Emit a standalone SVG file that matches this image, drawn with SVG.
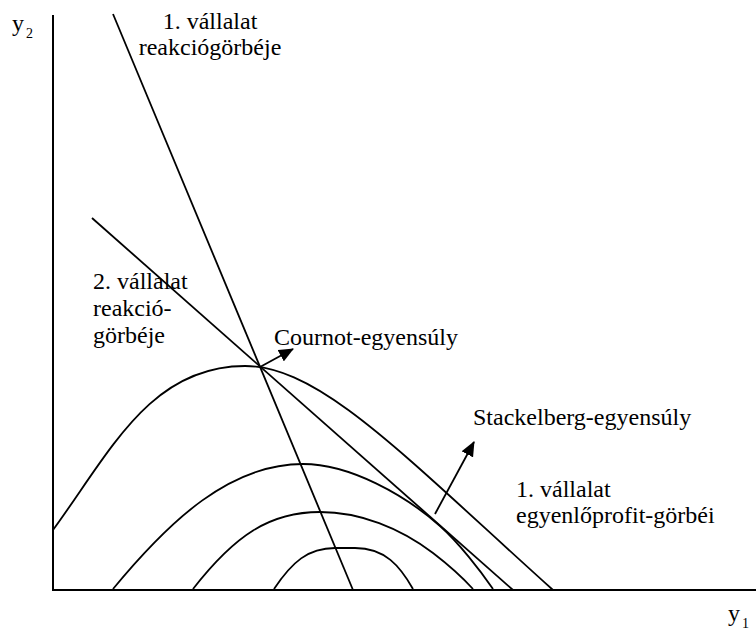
<svg xmlns="http://www.w3.org/2000/svg" width="756" height="632" viewBox="0 0 756 632">
  <style>
    .ln { fill: none; stroke: #000; stroke-width: 1.8; stroke-linecap: butt; }
    .ax { fill: none; stroke: #000; stroke-width: 2; }
    text { font-family: 'Liberation Serif', 'Times New Roman', Tinos, 'DejaVu Serif', serif; fill: #000; }
    .t { font-size: 24px; }
    .sub { font-size: 14px; }
  </style>
  <defs>
    <marker id="ah" viewBox="0 0 15 13" refX="14" refY="6.5" markerWidth="15" markerHeight="13" orient="auto" markerUnits="userSpaceOnUse">
      <path d="M0,0 L15,6.5 L0,13 z" fill="#000"/>
    </marker>
  </defs>
  <rect width="756" height="632" fill="#fff"/>

  <g id="axes">
    <path class="ax" d="M53,15 L53,590 L756,590"/>
    <text class="t" x="12" y="31">y</text><text class="sub" x="26" y="38">2</text>
    <text class="t" x="728" y="621">y</text><text class="sub" x="742" y="628">1</text>
  </g>

  <g id="reaction-curves">
    <path id="reaction1" class="ln" d="M113,14 L353,590"/>
    <path id="reaction2" class="ln" d="M92,218 L513,590"/>
  </g>

  <g id="isoprofit-curves">
    <path id="iso1" class="ln" d="M53,530 C110,452 150,366 245,366 C320,366 403,455 553,590"/>
    <path id="iso2" class="ln" d="M113,589 C170,520 230,464 303,464 C350,464 405,495 440,526 C458,542 480,570 493,589"/>
    <path id="iso3" class="ln" d="M193,589 C235,535 270,512 320,512 C360,512 400,528 433,553 C450,566 463,578 473,589"/>
    <path id="iso4" class="ln" d="M274,589 C292,562 308,548 335,548 L355,548 C385,548 400,566 413,589"/>
  </g>

  <g id="connectors">
    <path class="ln" d="M260,367 L293,349" marker-end="url(#ah)"/>
    <path class="ln" d="M435,514 L474,442" marker-end="url(#ah)"/>
  </g>

  <g id="label-reaction1">
    <text class="t" x="210" y="29" text-anchor="middle">1. vállalat</text>
    <text class="t" x="210" y="55" text-anchor="middle">reakciógörbéje</text>
  </g>
  <g id="label-reaction2">
    <text class="t" x="93" y="289">2. vállalat</text>
    <text class="t" x="93" y="316">reakció-</text>
    <text class="t" x="93" y="343">görbéje</text>
  </g>
  <g id="label-cournot">
    <text class="t" x="274" y="345">Cournot-egyensúly</text>
  </g>
  <g id="label-stackelberg">
    <text class="t" x="473" y="425">Stackelberg-egyensúly</text>
  </g>
  <g id="label-isoprofit">
    <text class="t" x="516" y="497">1. vállalat</text>
    <text class="t" x="516" y="523">egyenlőprofit-görbéi</text>
  </g>
</svg>
